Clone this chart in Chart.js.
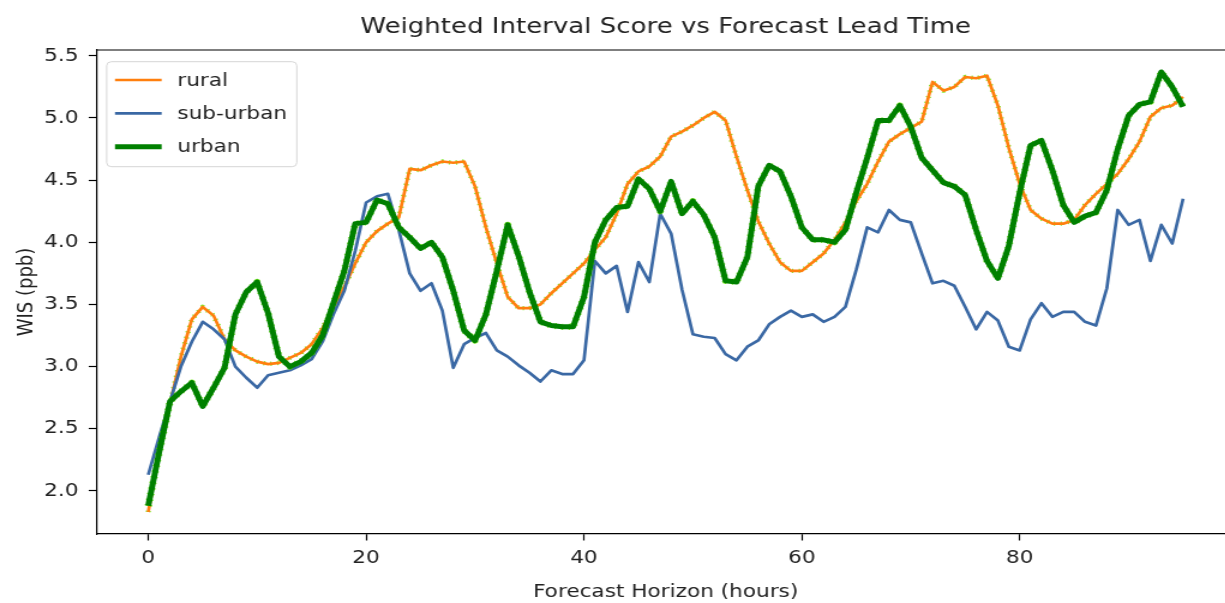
<!DOCTYPE html>
<html>
<head>
<meta charset="utf-8">
<title>Weighted Interval Score vs Forecast Lead Time</title>
<script src="https://cdn.jsdelivr.net/npm/chart.js@4.4.1/dist/chart.umd.min.js"></script>
<style>
  html, body { margin: 0; padding: 0; background: #fff; overflow: hidden; }
  #frame { position: relative; width: 1225px; height: 603px; overflow: hidden; }
  /* the figure is drawn narrow and stretched sideways */
  #wrap { position: absolute; left: 0; top: 0; width: 1032px; height: 603px; transform: scaleX(1.2); transform-origin: 0 0; }
</style>
</head>
<body>
<div id="frame"><div id="wrap"><canvas id="wisChart" width="1032" height="603"></canvas></div></div>
<script>
'use strict';
// forecast horizon in hours, 0..95
let hours = Array.from({ length: 96 }, (_, i) => i);

let rural = [1.83, 2.30, 2.70, 3.08, 3.38, 3.48, 3.41, 3.22, 3.13, 3.08,
    3.04, 3.02, 3.03, 3.07, 3.11, 3.18, 3.31, 3.48, 3.64, 3.83,
    4.00, 4.09, 4.15, 4.20, 4.59, 4.58, 4.62, 4.65, 4.64, 4.65,
    4.45, 4.12, 3.83, 3.56, 3.47, 3.47, 3.50, 3.59, 3.67, 3.75,
    3.83, 3.94, 4.04, 4.23, 4.47, 4.57, 4.61, 4.69, 4.85, 4.89,
    4.94, 5.00, 5.05, 4.98, 4.69, 4.42, 4.17, 3.99, 3.84, 3.77,
    3.77, 3.84, 3.91, 4.02, 4.16, 4.33, 4.47, 4.65, 4.81, 4.87,
    4.92, 4.97, 5.29, 5.22, 5.25, 5.33, 5.32, 5.34, 5.10, 4.76,
    4.47, 4.26, 4.19, 4.15, 4.15, 4.18, 4.30, 4.39, 4.47, 4.55,
    4.67, 4.81, 5.01, 5.08, 5.10, 5.17];

let subUrban = [2.13, 2.43, 2.72, 3.00, 3.20, 3.36, 3.30, 3.22, 3.00, 2.91,
    2.83, 2.93, 2.95, 2.97, 3.01, 3.06, 3.20, 3.42, 3.61, 3.93,
    4.32, 4.37, 4.39, 4.10, 3.75, 3.61, 3.67, 3.45, 2.99, 3.18,
    3.23, 3.27, 3.13, 3.08, 3.01, 2.95, 2.88, 2.97, 2.94, 2.94,
    3.05, 3.85, 3.75, 3.81, 3.44, 3.84, 3.68, 4.23, 4.07, 3.62,
    3.26, 3.24, 3.23, 3.10, 3.05, 3.16, 3.21, 3.34, 3.40, 3.45,
    3.40, 3.42, 3.36, 3.40, 3.48, 3.78, 4.12, 4.08, 4.26, 4.18,
    4.16, 3.91, 3.67, 3.69, 3.65, 3.48, 3.30, 3.44, 3.37, 3.16,
    3.13, 3.38, 3.51, 3.40, 3.44, 3.44, 3.36, 3.33, 3.63, 4.26,
    4.14, 4.18, 3.85, 4.14, 3.99, 4.35];

let urban = [1.88, 2.31, 2.72, 2.80, 2.87, 2.68, 2.83, 2.99, 3.42, 3.60,
    3.68, 3.43, 3.08, 3.00, 3.04, 3.11, 3.25, 3.51, 3.77, 4.15,
    4.16, 4.34, 4.31, 4.12, 4.04, 3.95, 4.00, 3.88, 3.61, 3.29,
    3.21, 3.42, 3.77, 4.14, 3.89, 3.60, 3.36, 3.33, 3.32, 3.32,
    3.56, 4.00, 4.18, 4.28, 4.29, 4.51, 4.43, 4.25, 4.49, 4.23,
    4.33, 4.22, 4.04, 3.69, 3.68, 3.88, 4.45, 4.62, 4.57, 4.37,
    4.12, 4.02, 4.02, 4.00, 4.10, 4.40, 4.68, 4.98, 4.98, 5.10,
    4.93, 4.68, 4.58, 4.48, 4.45, 4.38, 4.10, 3.85, 3.71, 3.97,
    4.40, 4.78, 4.82, 4.58, 4.30, 4.16, 4.21, 4.24, 4.42, 4.75,
    5.02, 5.11, 5.13, 5.37, 5.25, 5.09];

let xTicks = [0, 20, 40, 60, 80];
let yTicks = [2.0, 2.5, 3.0, 3.5, 4.0, 4.5, 5.0, 5.5];

let seriesNames = ['rural', 'sub-urban', 'urban'];
let seriesColors = ['#ff7f0e', '#3a68a4', '#008000'];
let seriesWidths = [2.7, 2.7, 5];

const FONT = 'DejaVu Sans';
const TEXT = '#222';

function toPoints(values) {
    return hours.map((h, i) => ({ x: h, y: values[i] }));
}

// 5% margins on both axes, like the default plotting margins
let allY = rural.concat(subUrban, urban);
let yLo = Math.min(...allY), yHi = Math.max(...allY);
let yPad = (yHi - yLo) * 0.05;
let xPad = (hours[hours.length - 1] - hours[0]) * 0.05;

function lineSet(i, values, order) {
    return {
        label: seriesNames[i],
        data: toPoints(values),
        borderColor: seriesColors[i],
        borderWidth: seriesWidths[i],
        borderJoinStyle: 'round',
        pointRadius: 0,
        tension: 0,
        fill: false,
        order: order
    };
}

// faint lime dotted trace that sits under a line
function dotSet(values, width, order) {
    return {
        label: '',
        data: toPoints(values),
        borderColor: 'rgba(100,230,0,0.85)',
        borderWidth: width,
        borderDash: [1.2, 4.5],
        borderJoinStyle: 'round',
        pointRadius: 0,
        tension: 0,
        fill: false,
        order: order
    };
}

// title, top spine and the boxed legend
const decorations = {
    id: 'decorations',
    afterDraw(chart) {
        const ctx = chart.ctx;
        const a = chart.chartArea;
        ctx.save();
        ctx.strokeStyle = '#000';
        ctx.lineWidth = 1.2;
        ctx.beginPath();
        ctx.moveTo(a.left, a.top);
        ctx.lineTo(a.right, a.top);
        ctx.stroke();

        ctx.fillStyle = TEXT;
        ctx.font = '21.7px "' + FONT + '"';
        ctx.textAlign = 'center';
        ctx.textBaseline = 'middle';
        ctx.fillText('Weighted Interval Score vs Forecast Lead Time', (a.left + a.right) / 2, 27.5);

        let bx = 88.9, by = 61.7, bw = 158.4, bh = 105;
        ctx.beginPath();
        ctx.roundRect(bx, by, bw, bh, 4);
        ctx.fillStyle = 'rgba(255,255,255,0.8)';
        ctx.fill();
        ctx.strokeStyle = '#d6d6d6';
        ctx.lineWidth = 1;
        ctx.stroke();

        ctx.textAlign = 'left';
        ctx.font = '18px "' + FONT + '"';
        for (let i = 0; i < seriesNames.length; i++) {
            let y = 80 + i * 33.4;
            ctx.strokeStyle = seriesColors[i];
            ctx.lineWidth = seriesWidths[i];
            ctx.beginPath();
            ctx.moveTo(95.8, y);
            ctx.lineTo(134.7, y);
            ctx.stroke();
            ctx.fillStyle = TEXT;
            ctx.fillText(seriesNames[i], 147.8, y + 1);
        }
        ctx.restore();
    }
};

let ctx = document.getElementById('wisChart').getContext('2d');
let wisChart = new Chart(ctx, {
    type: 'line',
    data: {
        datasets: [
            lineSet(0, rural, 5),
            dotSet(rural, 4.4, 6),
            lineSet(1, subUrban, 4),
            lineSet(2, urban, 1),
            dotSet(urban, 6.2, 2)
        ]
    },
    options: {
        responsive: false,
        animation: false,
        events: [],
        layout: { padding: { top: 50, right: 3, bottom: 0, left: 0 } },
        plugins: {
            legend: { display: false },
            title: { display: false },
            tooltip: { enabled: false }
        },
        scales: {
            x: {
                type: 'linear',
                min: hours[0] - xPad,
                max: hours[hours.length - 1] + xPad,
                afterBuildTicks: s => { s.ticks = xTicks.map(v => ({ value: v })); },
                afterFit: s => { s.height = 69; },
                border: { display: true, color: '#000', width: 1.2 },
                grid: { drawOnChartArea: false, drawTicks: true, tickLength: 6.5, tickColor: '#000', tickWidth: 1.2 },
                ticks: { font: { family: FONT, size: 18 }, color: TEXT, padding: 7.5, maxRotation: 0 },
                title: { display: true, text: 'Forecast Horizon (hours)', font: { family: FONT, size: 18 }, color: TEXT, padding: { top: 0, bottom: 0 } }
            },
            y: {
                type: 'linear',
                min: yLo - yPad,
                max: yHi + yPad,
                afterBuildTicks: s => { s.ticks = yTicks.map(v => ({ value: v })); },
                afterFit: s => { s.width = 80.4; },
                border: { display: true, color: '#000', width: 1.2 },
                grid: { drawOnChartArea: false, drawTicks: true, tickLength: 6.5, tickColor: '#000', tickWidth: 1.2 },
                ticks: { font: { family: FONT, size: 18 }, color: TEXT, padding: 8.5, callback: v => v.toFixed(1) },
                title: { display: true, text: 'WIS (ppb)', font: { family: FONT, size: 18 }, color: TEXT, padding: { top: 12, bottom: 0 } }
            }
        }
    },
    plugins: [decorations]
});
</script>
</body>
</html>
